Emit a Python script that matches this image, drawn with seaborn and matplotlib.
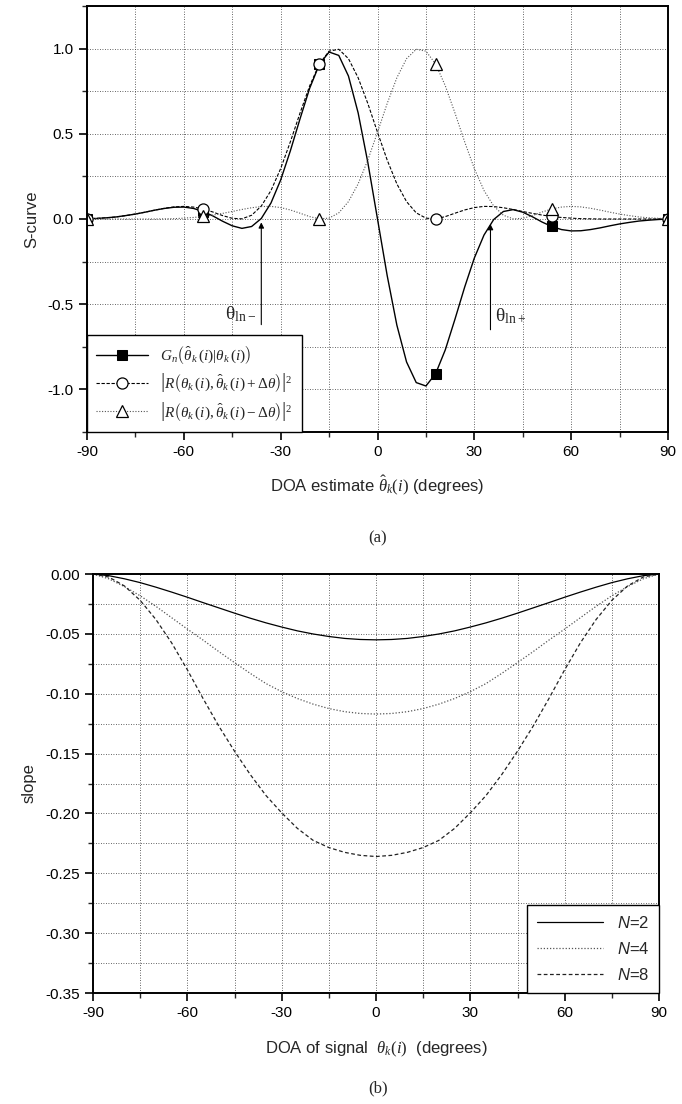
import numpy as np
import pandas as pd
import matplotlib
matplotlib.use("Agg")
import matplotlib.pyplot as plt
from matplotlib.ticker import MultipleLocator, FormatStrFormatter
import seaborn as sns

sns.set_style("white")
plt.rcParams['font.family'] = ['Liberation Sans', 'DejaVu Sans']
plt.rcParams['mathtext.fontset'] = 'custom'
plt.rcParams['mathtext.rm'] = 'Liberation Serif'
plt.rcParams['mathtext.it'] = 'Liberation Serif:italic'
plt.rcParams['mathtext.sf'] = 'Liberation Sans:italic'
plt.rcParams['axes.unicode_minus'] = False

# ---------------- data: panel (a) ----------------
doa_est = list(range(-90, 91, 3))
g_n = [0.0, 0.003, 0.007, 0.012, 0.020, 0.029, 0.040, 0.052, 0.062, 0.069,
       0.070, 0.062, 0.044, 0.018, -0.013, -0.040, -0.055, -0.044, 0.003, 0.094,
       0.229, 0.400, 0.588, 0.768, 0.908, 0.980, 0.960, 0.839, 0.623, 0.332,
       0.0, -0.332, -0.623, -0.839, -0.960, -0.980, -0.908, -0.768, -0.588, -0.400,
       -0.229, -0.094, -0.003, 0.044, 0.055, 0.040, 0.013, -0.018, -0.044, -0.062,
       -0.070, -0.069, -0.062, -0.052, -0.040, -0.029, -0.020, -0.012, -0.007, -0.003,
       0.0]
r_plus = [0.002, 0.004, 0.007, 0.012, 0.020, 0.029, 0.040, 0.052, 0.063, 0.071,
          0.074, 0.070, 0.059, 0.041, 0.020, 0.004, 0.001, 0.022, 0.076, 0.167,
          0.296, 0.453, 0.622, 0.782, 0.910, 0.985, 0.996, 0.941, 0.829, 0.678,
          0.509, 0.346, 0.206, 0.102, 0.036, 0.005, 0.001, 0.014, 0.034, 0.053,
          0.067, 0.074, 0.073, 0.066, 0.056, 0.044, 0.033, 0.023, 0.015, 0.009,
          0.005, 0.002, 0.001, 0.0, 0.0, 0.0, 0.0, 0.0, 0.0, 0.001,
          0.002]
r_minus = [0.002, 0.001, 0.0, 0.0, 0.0, 0.0, 0.0, 0.0, 0.001, 0.002,
           0.005, 0.009, 0.015, 0.023, 0.033, 0.044, 0.056, 0.066, 0.073, 0.074,
           0.067, 0.053, 0.034, 0.014, 0.001, 0.005, 0.036, 0.102, 0.206, 0.346,
           0.509, 0.678, 0.829, 0.941, 0.996, 0.985, 0.910, 0.782, 0.622, 0.453,
           0.296, 0.167, 0.076, 0.022, 0.001, 0.004, 0.020, 0.041, 0.059, 0.070,
           0.074, 0.071, 0.063, 0.052, 0.040, 0.029, 0.020, 0.012, 0.007, 0.004,
           0.002]
labels_a = [r'$G_n\left(\hat{\theta}_k\,(i)|\theta_k\,(i)\right)$',
            r'$\left|R\left(\theta_k\,(i),\hat{\theta}_k\,(i)+\Delta\theta\right)\right|^2$',
            r'$\left|R\left(\theta_k\,(i),\hat{\theta}_k\,(i)-\Delta\theta\right)\right|^2$']
null_minus = -36
null_plus = 35

# ---------------- data: panel (b) ----------------
doa_sig = list(range(-90, 91, 5))
slope_n2 = [0.0, -0.0014, -0.0040, -0.0072, -0.0110, -0.0151, -0.0194, -0.0239, -0.0283, -0.0327,
            -0.0369, -0.0408, -0.0443, -0.0475, -0.0501, -0.0522, -0.0538, -0.0547, -0.0550,
            -0.0547, -0.0538, -0.0522, -0.0501, -0.0475, -0.0443, -0.0408, -0.0369,
            -0.0327, -0.0283, -0.0239, -0.0194, -0.0151, -0.0110, -0.0072, -0.0040, -0.0014, 0.0]
slope_n4 = [0.0, -0.0040, -0.0105, -0.0182, -0.0270, -0.0365, -0.0460, -0.0552, -0.0648, -0.0740,
            -0.0830, -0.0915, -0.0983, -0.1040, -0.1087, -0.1124, -0.1150, -0.1165, -0.1170,
            -0.1165, -0.1150, -0.1124, -0.1087, -0.1040, -0.0983, -0.0915, -0.0830,
            -0.0740, -0.0648, -0.0552, -0.0460, -0.0365, -0.0270, -0.0182, -0.0105, -0.0040, 0.0]
slope_n8 = [0.0, -0.0025, -0.0100, -0.0220, -0.0380, -0.0575, -0.0800, -0.1040, -0.1270, -0.1480,
            -0.1675, -0.1850, -0.1995, -0.2125, -0.2225, -0.2285, -0.2325, -0.2350, -0.2360,
            -0.2350, -0.2325, -0.2285, -0.2225, -0.2125, -0.1995, -0.1850, -0.1675,
            -0.1480, -0.1270, -0.1040, -0.0800, -0.0575, -0.0380, -0.0220, -0.0100, -0.0025, 0.0]
labels_b = [r'$\mathsf{N}$=2', r'$\mathsf{N}$=4', r'$\mathsf{N}$=8']

W, H = 682, 1104
fig = plt.figure(figsize=(W / 100, H / 100), dpi=100)


def box(l, t, r, b):
    return [l / W, 1 - b / H, (r - l) / W, (b - t) / H]


ax1 = fig.add_axes(box(87, 6, 668, 432))
ax2 = fig.add_axes(box(93, 574, 659, 993))

grid_kw = dict(color='#333333', lw=0.6, ls=(0, (1, 2)))


def style_axes(ax):
    for s in ax.spines.values():
        s.set_color('black')
        s.set_linewidth(1.4)
    ax.tick_params(which='major', direction='out', length=6, width=1.2,
                   labelsize=11, colors='black', bottom=True, left=True, top=False, right=False)
    ax.tick_params(which='minor', direction='out', length=3.5, width=1.0,
                   bottom=True, left=True, top=False, right=False)
    ax.grid(True, which='both', **grid_kw)
    ax.set_axisbelow(True)


# ---------------- panel (a) ----------------
df_a = pd.DataFrame({'x': doa_est, 'g': g_n, 'rp': r_plus, 'rm': r_minus})
sns.lineplot(data=df_a, x='x', y='g', ax=ax1, color='black', lw=1.0,
             marker='s', markevery=12, markersize=6.5, markerfacecolor='black',
             markeredgecolor='black', label=labels_a[0])
sns.lineplot(data=df_a, x='x', y='rp', ax=ax1, color='black', lw=0.8,
             linestyle=(0, (3, 1.5)), marker='o', markevery=12, markersize=8,
             markerfacecolor='white', markeredgecolor='black', markeredgewidth=0.9,
             label=labels_a[1])
sns.lineplot(data=df_a, x='x', y='rm', ax=ax1, color='#555555', lw=0.8,
             linestyle=(0, (1, 1.5)), marker='^', markevery=12, markersize=9,
             markerfacecolor='white', markeredgecolor='black', markeredgewidth=0.9,
             label=labels_a[2])

ax1.set_xlim(-90, 90)
ax1.set_ylim(-1.25, 1.25)
ax1.xaxis.set_major_locator(MultipleLocator(30))
ax1.xaxis.set_minor_locator(MultipleLocator(15))
ax1.yaxis.set_major_locator(MultipleLocator(0.5))
ax1.yaxis.set_minor_locator(MultipleLocator(0.25))
ax1.yaxis.set_major_formatter(FormatStrFormatter('%.1f'))
style_axes(ax1)
ax1.set_ylabel('S-curve', fontsize=12, labelpad=6)
ax1.set_xlabel(r'DOA estimate $\hat{\theta}_k(i)$ (degrees)', fontsize=12, labelpad=10)

arrow_kw = dict(arrowstyle='-|>', color='black', lw=0.8, mutation_scale=8,
                shrinkA=0, shrinkB=0)
ax1.annotate('', xy=(null_minus, -0.02), xytext=(null_minus, -0.62), arrowprops=arrow_kw)
ax1.annotate('', xy=(null_plus, -0.03), xytext=(null_plus, -0.65), arrowprops=arrow_kw)
ax1.text(null_minus - 1.5, -0.56, r'$\mathrm{θ}_{\mathrm{ln-}}$', ha='right', va='center', fontsize=14)
ax1.text(null_plus + 1.5, -0.57, r'$\mathrm{θ}_{\mathrm{ln+}}$', ha='left', va='center', fontsize=14)

leg1 = ax1.legend(loc='lower left', bbox_to_anchor=(0, 0), borderaxespad=0,
                  frameon=True, fancybox=False, framealpha=1, edgecolor='black',
                  fontsize=11, handlelength=3.4, labelspacing=0.35, borderpad=0.6)
leg1.get_frame().set_linewidth(1.0)

# ---------------- panel (b) ----------------
df_b = pd.DataFrame({'x': doa_sig, 'n2': slope_n2, 'n4': slope_n4, 'n8': slope_n8})
sns.lineplot(data=df_b, x='x', y='n2', ax=ax2, color='black', lw=0.9, label=labels_b[0])
sns.lineplot(data=df_b, x='x', y='n4', ax=ax2, color='#555555', lw=0.9,
             linestyle=(0, (1, 1.5)), label=labels_b[1])
sns.lineplot(data=df_b, x='x', y='n8', ax=ax2, color='#222222', lw=0.9,
             linestyle=(0, (3, 2)), label=labels_b[2])

ax2.set_xlim(-90, 90)
ax2.set_ylim(-0.35, 0.0)
ax2.xaxis.set_major_locator(MultipleLocator(30))
ax2.xaxis.set_minor_locator(MultipleLocator(15))
ax2.yaxis.set_major_locator(MultipleLocator(0.05))
ax2.yaxis.set_minor_locator(MultipleLocator(0.025))
ax2.yaxis.set_major_formatter(FormatStrFormatter('%.2f'))
style_axes(ax2)
ax2.set_ylabel('slope', fontsize=12, labelpad=6)
ax2.set_xlabel(r'DOA of signal  $\theta_k(i)$  (degrees)', fontsize=12, labelpad=14)

leg2 = ax2.legend(loc='lower right', bbox_to_anchor=(1, 0), borderaxespad=0,
                  frameon=True, fancybox=False, framealpha=1, edgecolor='black',
                  fontsize=12, handlelength=4.0, labelspacing=0.6, borderpad=0.6)
leg2.get_frame().set_linewidth(1.0)

fig.text(378 / W, 1 - 538 / H, '(a)', ha='center', va='center', fontsize=12,
         family='Liberation Serif')
fig.text(378 / W, 1 - 1088 / H, '(b)', ha='center', va='center', fontsize=12,
         family='Liberation Serif')

fig.savefig('out.png', dpi=100, facecolor='white')
